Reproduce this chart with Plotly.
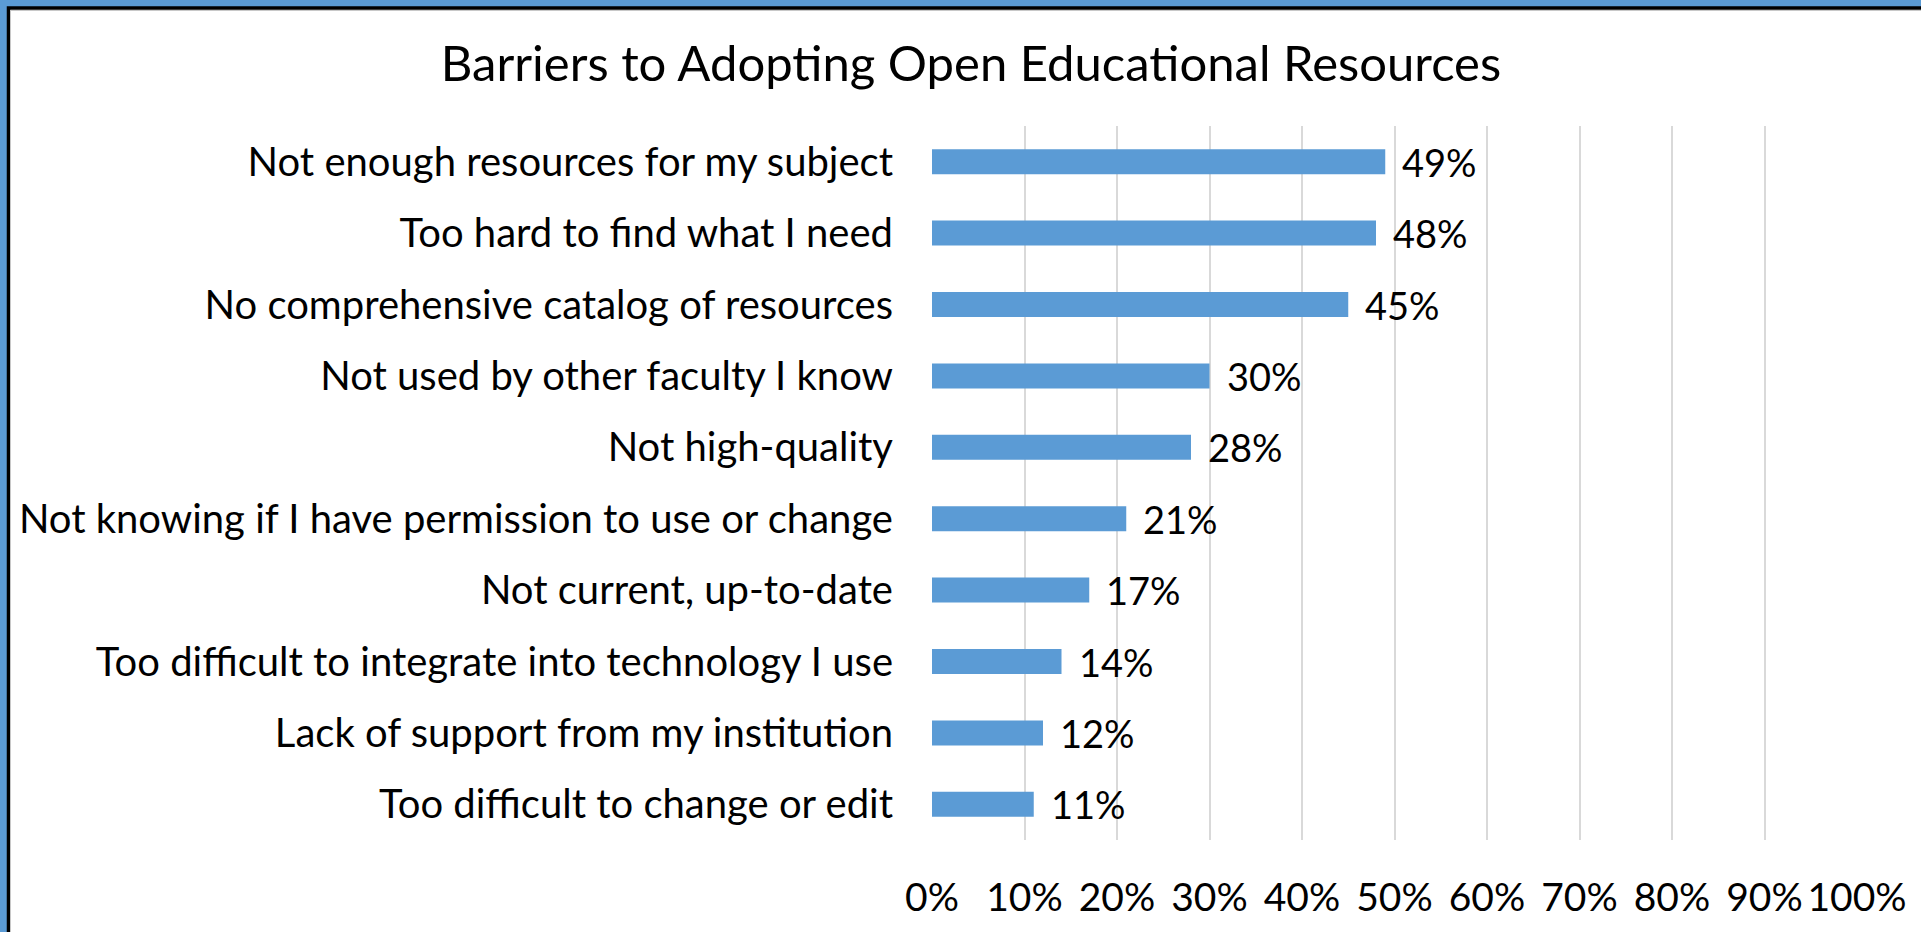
import plotly.graph_objects as go

categories = [
    "Not enough resources for my subject",
    "Too hard to find what I need",
    "No comprehensive catalog of resources",
    "Not used by other faculty I know",
    "Not high-quality",
    "Not knowing if I have permission to use or change",
    "Not current, up-to-date",
    "Too difficult to integrate into technology I use",
    "Lack of support from my institution",
    "Too difficult to change or edit",
]
values = [0.49, 0.48, 0.45, 0.30, 0.28, 0.21, 0.17, 0.14, 0.12, 0.11]
value_labels = ["49%", "48%", "45%", "30%", "28%", "21%", "17%", "14%", "12%", "11%"]
tick_vals = [0, 0.1, 0.2, 0.3, 0.4, 0.5, 0.6, 0.7, 0.8, 0.9, 1.0]
tick_text = ["0%", "10%", "20%", "30%", "40%", "50%", "60%", "70%", "80%", "90%", "100%"]
title_text = "Barriers to Adopting Open Educational Resources"

W, H = 1921, 932
L, R, T, B = 932, 64, 126, 92
FONT = "Lato"

fig = go.Figure()
fig.add_trace(go.Bar(
    y=categories, x=values, orientation="h",
    marker=dict(color="#5B9BD5", line=dict(width=0)),
    hoverinfo="skip",
))

for c, v, t in zip(categories, values, value_labels):
    fig.add_annotation(x=v, y=c, xref="x", yref="y", text=t, showarrow=False,
                       xanchor="left", yanchor="middle", xshift=15,
                       font=dict(family=FONT, size=38, color="#000000"))

pw = W - L - R
ph = H - T - B
def px_x(p):
    return (p - L) / pw
def px_y(p):
    return (H - B - p) / ph

# frame: blue outer, black border, thin gray inner line
fig.add_shape(type="rect", xref="paper", yref="paper",
              x0=px_x(8.5), x1=px_x(W + 50), y0=px_y(8), y1=px_y(H + 50),
              line=dict(color="#000000", width=3.5), fillcolor="#FFFFFF", layer="below")
fig.add_shape(type="rect", xref="paper", yref="paper",
              x0=px_x(10.5), x1=px_x(W + 50), y0=px_y(10.5), y1=px_y(H + 50),
              line=dict(color="#C8C8C8", width=1), fillcolor="rgba(0,0,0,0)", layer="below")

fig.update_layout(
    width=W, height=H,
    margin=dict(l=L, r=R, t=T, b=B, autoexpand=False),
    paper_bgcolor="#5B9BD5",
    plot_bgcolor="rgba(0,0,0,0)",
    bargap=0.65,
    showlegend=False,
    title=dict(text=title_text, x=971 / W, xanchor="center", y=1 - 64 / H, yanchor="middle",
               font=dict(family=FONT, size=49, color="#000000")),
    font=dict(family=FONT, size=40, color="#000000"),
    xaxis=dict(range=[0, 1.0], tickvals=tick_vals, ticktext=tick_text,
               showgrid=True, gridcolor="#D9D9D9", gridwidth=1.5,
               zeroline=False, showline=False, ticks="",
               ticklabelstandoff=31,
               tickfont=dict(family=FONT, size=39, color="#000000")),
    yaxis=dict(categoryorder="array", categoryarray=categories[::-1],
               showgrid=False, zeroline=False, showline=False, ticks="",
               ticklabelstandoff=38,
               tickfont=dict(family=FONT, size=40, color="#000000")),
)

fig.write_html("out.html")
